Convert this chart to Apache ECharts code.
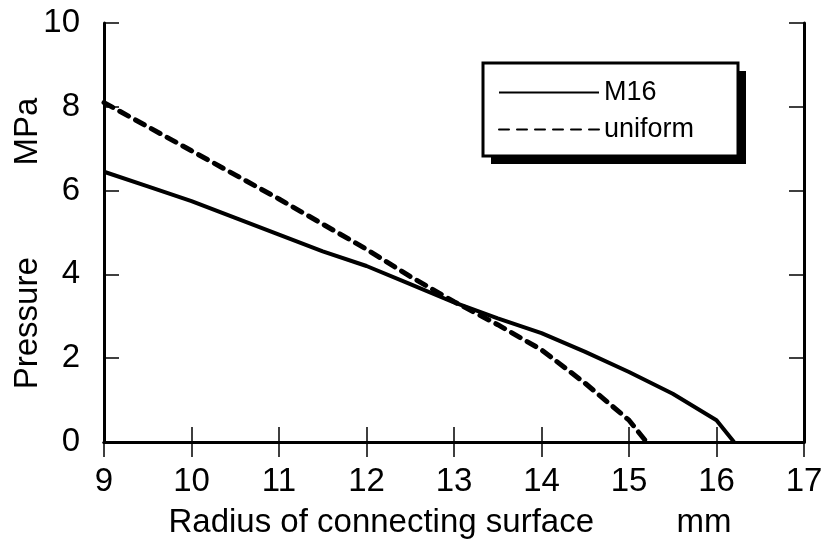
<!DOCTYPE html>
<html>
<head>
<meta charset="utf-8">
<script src="https://cdn.jsdelivr.net/npm/echarts@6/dist/echarts.min.js"></script>
<style>html,body{margin:0;padding:0;background:#fff}#c{width:828px;height:541px}</style>
</head>
<body>
<div id="c"></div>
<script>
// Data
const m16X = [9, 9.5, 10, 10.5, 11, 11.5, 12, 12.5, 13, 13.5, 14, 14.5, 15, 15.5, 16, 16.2];
const m16Y = [6.45, 6.1, 5.75, 5.35, 4.95, 4.55, 4.2, 3.77, 3.33, 2.95, 2.6, 2.15, 1.67, 1.15, 0.52, 0];
const uniX = [9, 10, 11, 12, 12.5, 13, 13.5, 14, 14.5, 15, 15.2];
const uniY = [8.1, 6.95, 5.8, 4.6, 3.95, 3.35, 2.8, 2.2, 1.4, 0.52, 0];
const xTicks = [9, 10, 11, 12, 13, 14, 15, 16, 17];
const yTicks = [0, 2, 4, 6, 8, 10];
const seriesNames = ['M16', 'uniform'];
const xTitle = 'Radius of connecting surface         mm';
const yTitle = 'Pressure          MPa';

const FONT = 'Liberation Sans';
const pair = (xs, ys) => xs.map((x, i) => [x, ys[i]]);

const chart = echarts.init(document.getElementById('c'));
const tick = { show: true, inside: true, length: 15, lineStyle: { color: '#000', width: 1.5 } };
const axLine = { show: true, lineStyle: { color: '#000', width: 3 } };
chart.setOption({
  animation: false,
  backgroundColor: '#fff',
  grid: { left: 104, right: 24, top: 23, bottom: 99, containLabel: false, outerBoundsMode: 'none' },
  graphic: [
    { type: 'rect', z: 1, silent: true, shape: { x: 491, y: 71, width: 255, height: 93 }, style: { fill: '#000' } },
    { type: 'rect', z: 2, silent: true, shape: { x: 483, y: 63, width: 255, height: 93 }, style: { fill: '#fff', stroke: '#000', lineWidth: 3 } }
  ],
  legend: {
    orient: 'vertical',
    left: 483, top: 63, z: 10,
    padding: [16, 40, 16, 15],
    itemWidth: 100, itemHeight: 20, itemGap: 10,
    itemStyle: { color: 'rgba(0,0,0,0)', borderWidth: 0, opacity: 0 },
    textStyle: { fontFamily: FONT, fontSize: 27, color: '#000', padding: [0, 0, 0, 0] },
    data: seriesNames
  },
  xAxis: [{
    type: 'value', min: xTicks[0], max: xTicks[xTicks.length - 1], interval: 1,
    position: 'bottom',
    axisLine: axLine, axisTick: tick, splitLine: { show: false },
    axisLabel: { margin: 23, fontFamily: FONT, fontSize: 33, color: '#000' },
    name: xTitle, nameLocation: 'middle', nameGap: 64, nameMoveOverlap: false,
    nameTextStyle: { fontFamily: FONT, fontSize: 33, color: '#000', padding: [0, 8, 0, 0] }
  }, {
    type: 'value', min: xTicks[0], max: xTicks[xTicks.length - 1], interval: 1,
    position: 'top',
    axisLine: axLine, axisTick: tick, splitLine: { show: false }, axisLabel: { show: false }
  }],
  yAxis: [{
    type: 'value', min: yTicks[0], max: yTicks[yTicks.length - 1], interval: 2,
    position: 'left',
    axisLine: axLine, axisTick: tick, splitLine: { show: false },
    axisLabel: { margin: 24, fontFamily: FONT, fontSize: 33, color: '#000' },
    name: yTitle, nameLocation: 'middle', nameGap: 60, nameRotate: 90, nameMoveOverlap: false,
    nameTextStyle: { fontFamily: FONT, fontSize: 33, color: '#000', padding: [0, 22, 0, 0] }
  }, {
    type: 'value', min: yTicks[0], max: yTicks[yTicks.length - 1], interval: 2,
    position: 'right',
    axisLine: axLine, axisTick: tick, splitLine: { show: false }, axisLabel: { show: false }
  }],
  series: [{
    name: seriesNames[0], type: 'line', symbol: 'none',
    data: pair(m16X, m16Y),
    lineStyle: { color: '#000', width: 4 },
    itemStyle: { color: '#000' }
  }, {
    name: seriesNames[1], type: 'line', symbol: 'none',
    data: pair(uniX, uniY),
    lineStyle: { color: '#000', width: 5, type: [10, 8], cap: 'round' },
    itemStyle: { color: '#000' }
  }]
});
</script>
</body>
</html>
